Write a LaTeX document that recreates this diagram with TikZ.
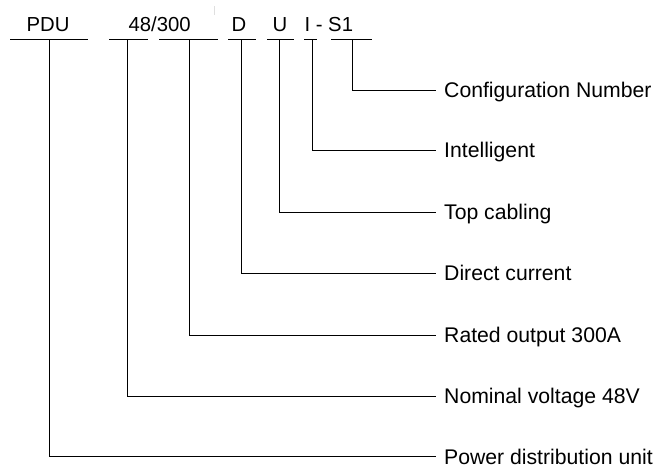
\documentclass[tikz,border=0pt]{standalone}
\usepackage{fontspec}
\setmainfont{Liberation Sans}
\begin{document}
\begin{tikzpicture}[x=1pt,y=-1pt,
  code/.style={font=\fontsize{20.3}{24}\selectfont,anchor=base,inner sep=0pt},
  meaning/.style={font=\fontsize{21.2}{25}\selectfont,anchor=west,
    inner xsep=8pt,inner ysep=0pt,text height=15pt,text depth=0pt},
  rule/.style={line width=1pt,black},
  lead/.style={line width=1pt,black,line join=miter}]
\useasboundingbox (0,0) rectangle (657,467);

% model code
\node[code] (tPDU) at (48,31.5) {PDU};
\node[code] (tRate) at (159.7,31.5) {48/300};
\node[code] (tD) at (239,31.5) {D};
\node[code] (tU) at (280,31.5) {U};
\node[code] (tIS) at (328.8,31.5) {I - S1};

% faint mark above the code
\draw[gray!25,line width=0.8pt] (214,6) -- (214,15);

% underlines of the code fields
\draw[rule] (10,39.5) -- (88,39.5);
\draw[rule] (109,39.5) -- (148,39.5);
\draw[rule] (159,39.5) -- (218,39.5);
\draw[rule] (228,39.5) -- (256,39.5);
\draw[rule] (267,39.5) -- (294,39.5);
\draw[rule] (304,39.5) -- (317,39.5);
\draw[rule] (331,39.5) -- (372,39.5);

% taps on the underlines
\coordinate (pPDU) at (49.3,39.5);
\coordinate (p48) at (127.7,39.5);
\coordinate (p300) at (189,39.5);
\coordinate (pD) at (241.7,39.5);
\coordinate (pU) at (279.7,39.5);
\coordinate (pI) at (312.3,39.5);
\coordinate (pS) at (352.3,39.5);

% meanings
\node[meaning] (mS) at (436,90) {Configuration Number};
\node[meaning] (mI) at (436,150) {Intelligent};
\node[meaning] (mU) at (436,212) {Top cabling};
\node[meaning] (mD) at (436,273) {Direct current};
\node[meaning] (m300) at (436,335) {Rated output 300A};
\node[meaning] (m48) at (436,396) {Nominal voltage 48V};
\node[meaning] (mPDU) at (436,456.5) {Power distribution unit};

% leaders
\draw[lead] (pS) |- (mS.west);
\draw[lead] (pI) |- (mI.west);
\draw[lead] (pU) |- (mU.west);
\draw[lead] (pD) |- (mD.west);
\draw[lead] (p300) |- (m300.west);
\draw[lead] (p48) |- (m48.west);
\draw[lead] (pPDU) |- (mPDU.west);
\end{tikzpicture}
\end{document}
